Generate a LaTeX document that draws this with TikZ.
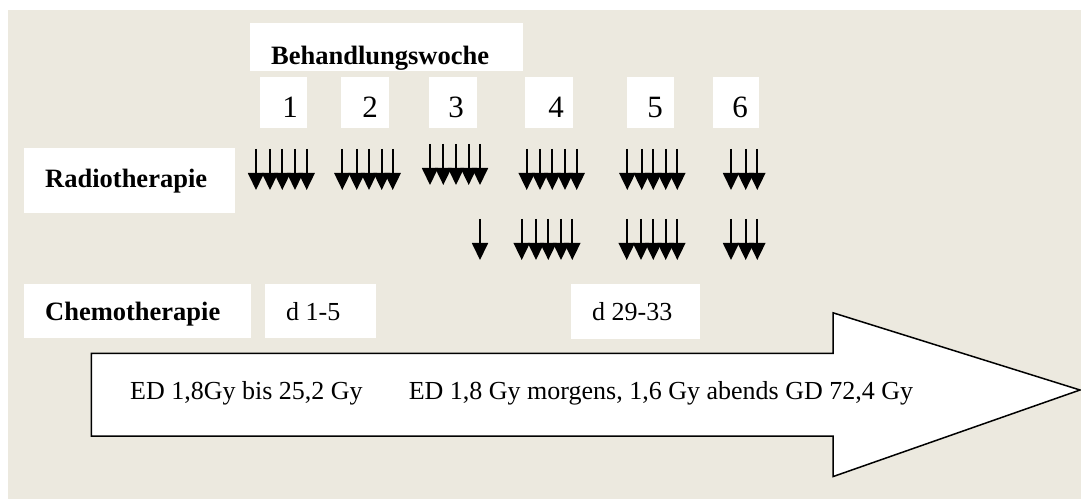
\documentclass[tikz,border=0pt]{standalone}
\usepackage{fontspec}
\setmainfont{Liberation Serif}
\usetikzlibrary{arrows.meta}
\definecolor{paper}{RGB}{236,233,223}
\begin{document}
\begin{tikzpicture}[x=1bp,y=-1bp,
  whitebox/.style={fill=white,draw=none},
  lbl/.style={inner sep=0pt,anchor=base west,font=\fontsize{26bp}{30bp}\selectfont},
  blbl/.style={inner sep=0pt,anchor=base west,font=\fontsize{26.5bp}{30bp}\selectfont\bfseries},
  num/.style={inner sep=0pt,anchor=base,font=\fontsize{31bp}{34bp}\selectfont},
  dose/.style={-{Triangle[width=16bp,length=17bp]},line width=1.8bp}]
\useasboundingbox (0,0) rectangle (1081,499);
% background panel
\fill[paper] (8,10) rectangle (1081,499);

% heading, cut off at the bottom of its box
\begin{scope}
  \clip (250,23) rectangle (523,71);
  \fill[whitebox] (250,23) rectangle (523,71);
  \node[blbl] (hdr) at (271,65) {Behandlungswoche};
\end{scope}

% week numbers
\fill[whitebox] (260,77) rectangle (307,128);
\fill[whitebox] (341,77) rectangle (389,128);
\fill[whitebox] (429,77) rectangle (477,128);
\fill[whitebox] (525,77) rectangle (573,128);
\fill[whitebox] (627,77) rectangle (674,128);
\fill[whitebox] (713,77) rectangle (759,128);
\node[num] (w1) at (290,118) {1};
\node[num] (w2) at (370,118) {2};
\node[num] (w3) at (456,118) {3};
\node[num] (w4) at (556,118) {4};
\node[num] (w5) at (655,118) {5};
\node[num] (w6) at (740,118) {6};

% row labels
\fill[whitebox] (24,148) rectangle (235,213);
\node[blbl] (rt) at (45,188) {Radiotherapie};
\fill[whitebox] (24,284) rectangle (251,338);
\node[blbl] (ct) at (45,321) {Chemotherapie};
\fill[whitebox] (265,284) rectangle (376,338);
\node[lbl] (c1) at (286,321) {d 1-5};
\fill[whitebox] (571,284) rectangle (700,339);
\node[lbl] (c2) at (592,321) {d 29-33};

% daily fractions
\foreach \x in {256,270,282.3,295,306.7, 342.3,356.7,369,381.7,392.7,
                526.7,540,552.3,565,576.7, 627.3,641.7,653.3,665.7,677.3,
                731,745.7,757.3}
  \draw[dose] (\x,149) -- (\x,190);
\foreach \x in {430,443.3,456,468.7,480}
  \draw[dose] (\x,144) -- (\x,185);
\foreach \x in {480, 521.7,536,548.3,561,572.3, 626.7,641,653.3,665.7,677.3,
                731,745.7,757.3}
  \draw[dose] (\x,219) -- (\x,260);

% time arrow
\draw[line width=1.5bp,fill=white,line join=miter]
  (91.4,353.4) -- (833,353.4) -- (833,312.8) -- (1080,390)
  -- (833,476.6) -- (833,436) -- (91.4,436) -- cycle;
\node[lbl] (ed1) at (130,399) {ED 1,8Gy bis 25,2 Gy};
\node[lbl] (ed2) at (408.6,399) {ED 1,8 Gy morgens, 1,6 Gy abends GD 72,4 Gy};
\end{tikzpicture}
\end{document}
